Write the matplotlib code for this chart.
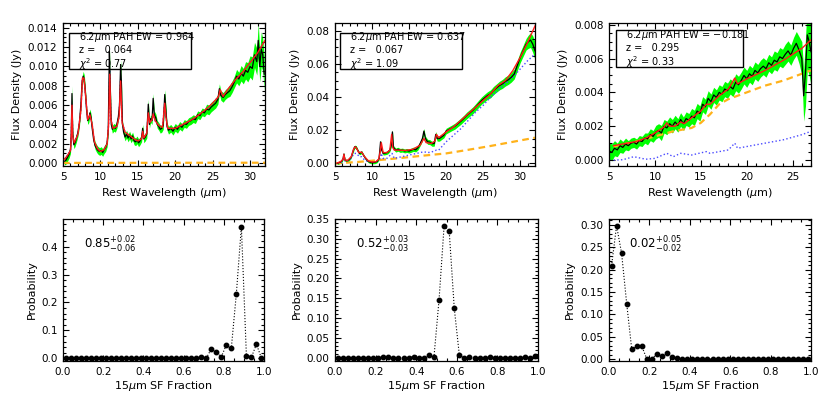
import matplotlib
matplotlib.use("Agg")
import matplotlib.pyplot as plt
from matplotlib.ticker import MultipleLocator, AutoMinorLocator, FormatStrFormatter
from matplotlib.patches import Rectangle
import numpy as np

plt.rcParams['font.family'] = ['DejaVu Sans']
plt.rcParams['mathtext.fontset'] = 'dejavusans'

# ---------------- Panel 1 (top left) ----------------
p1_wave = [5.2,5.4,5.6,5.8,6.0,6.1,6.2,6.3,6.45,6.6,6.8,7.0,7.2,7.4,7.55,7.7,7.85,8.0,8.15,8.3,8.45,8.6,8.75,8.9,
           9.1,9.3,9.5,9.7,9.9,10.1,10.3,10.5,10.7,10.9,11.05,11.2,11.3,11.45,11.6,11.8,12.0,12.2,12.4,12.55,12.7,12.8,
           12.95,13.1,13.3,13.5,13.7,13.9,14.1,14.3,14.5,14.7,14.9,15.1,15.3,15.5,15.65,15.8,16.0,16.2,16.4,16.55,16.7,
           16.9,17.05,17.2,17.4,17.6,17.8,18.0,18.2,18.4,18.6,18.75,18.9,19.1,19.4,19.7,20.0,20.3,20.6,20.9,21.2,21.5,
           21.8,22.1,22.4,22.7,23.0,23.3,23.6,23.9,24.2,24.5,24.8,25.1,25.4,25.7,25.9,26.1,26.4,26.7,27.0,27.3,27.6,
           27.9,28.2,28.5,28.8,29.1,29.4,29.7,30.0,30.3,30.6,30.9,31.1,31.3,31.5,31.7,31.9]
p1_flux = [0.0002,0.0003,0.0006,0.0009,0.0014,0.0030,0.0072,0.0030,0.0019,0.0021,0.0026,0.0032,0.0042,0.0062,0.0084,
           0.0090,0.0086,0.0072,0.0055,0.0044,0.0046,0.0052,0.0047,0.0036,0.0024,0.0018,0.0015,0.0013,0.0012,0.0013,
           0.0011,0.0014,0.0016,0.0021,0.0035,0.0116,0.0085,0.0040,0.0035,0.0037,0.0036,0.0040,0.0048,0.0060,0.0102,
           0.0085,0.0040,0.0032,0.0027,0.0030,0.0026,0.0029,0.0025,0.0028,0.0023,0.0022,0.0024,0.0021,0.0023,0.0026,
           0.0036,0.0025,0.0027,0.0030,0.0061,0.0040,0.0046,0.0044,0.0067,0.0050,0.0047,0.0040,0.0038,0.0035,0.0036,
           0.0039,0.0071,0.0055,0.0038,0.0034,0.0036,0.0033,0.0037,0.0035,0.0039,0.0037,0.0041,0.0040,0.0043,0.0044,
           0.0046,0.0045,0.0050,0.0049,0.0053,0.0052,0.0056,0.0055,0.0058,0.0060,0.0062,0.0066,0.0077,0.0070,0.0068,
           0.0071,0.0073,0.0075,0.0079,0.0084,0.0090,0.0087,0.0093,0.0090,0.0096,0.0094,0.0100,0.0098,0.0112,0.0105,
           0.0127,0.0100,0.0118,0.0112,0.0092]
p1_err = [0.0004,0.0004,0.0004,0.0004,0.0004,0.0005,0.0008,0.0005,0.0004,0.0004,0.0004,0.0004,0.0004,0.0005,0.0005,
          0.0005,0.0005,0.0005,0.0004,0.0004,0.0004,0.0004,0.0004,0.0004,0.0004,0.0004,0.0004,0.0004,0.0004,0.0004,
          0.0004,0.0004,0.0004,0.0004,0.0005,0.0006,0.0005,0.0004,0.0004,0.0004,0.0004,0.0004,0.0004,0.0004,0.0005,
          0.0005,0.0004,0.0004,0.0004,0.0004,0.0004,0.0004,0.0004,0.0004,0.0004,0.0004,0.0004,0.0004,0.0004,0.0004,
          0.0004,0.0004,0.0004,0.0004,0.0005,0.0004,0.0004,0.0004,0.0005,0.0004,0.0004,0.0004,0.0004,0.0004,0.0004,
          0.0004,0.0005,0.0005,0.0004,0.0004,0.0004,0.0004,0.0004,0.0004,0.0004,0.0004,0.0004,0.0004,0.0004,0.0004,
          0.0004,0.0004,0.0004,0.0004,0.0004,0.0004,0.0005,0.0005,0.0005,0.0005,0.0005,0.0005,0.0005,0.0005,0.0005,
          0.0005,0.0005,0.0006,0.0006,0.0006,0.0007,0.0007,0.0008,0.0008,0.0009,0.0010,0.0011,0.0012,0.0013,0.0014,
          0.0018,0.0016,0.0018,0.0017,0.0017]
p1_model_wave = [5.2,5.6,6.0,6.1,6.2,6.3,6.5,7.0,7.4,7.6,7.8,8.0,8.3,8.6,8.9,9.2,9.6,10.0,10.5,10.9,11.1,11.25,11.4,
                 11.7,12.2,12.5,12.7,12.9,13.3,14.0,14.5,15.0,15.5,15.65,15.8,16.2,16.4,16.6,16.9,17.05,17.3,17.8,18.3,
                 18.6,18.75,19.0,20,21,22,23,24,25,25.8,26.0,26.4,27,28,29,30,31,32]
p1_model_flux = [0.0004,0.0008,0.0013,0.0025,0.0060,0.0028,0.0021,0.0030,0.0055,0.0088,0.0088,0.0072,0.0045,0.0050,
                 0.0040,0.0022,0.0015,0.0012,0.0014,0.0020,0.0040,0.0092,0.0045,0.0036,0.0038,0.0048,0.0085,0.0042,
                 0.0032,0.0028,0.0025,0.0023,0.0025,0.0033,0.0026,0.0031,0.0052,0.0042,0.0045,0.0051,0.0044,0.0039,
                 0.0037,0.0062,0.0048,0.0036,0.0036,0.0040,0.0044,0.0049,0.0055,0.0062,0.0069,0.0076,0.0069,0.0076,
                 0.0086,0.0094,0.0104,0.0114,0.0127]
p1_sb_flux = [0.0004,0.0008,0.0013,0.0025,0.0061,0.0028,0.0021,0.0030,0.0055,0.0088,0.0088,0.0072,0.0045,0.0050,
              0.0040,0.0022,0.0015,0.0012,0.0014,0.0020,0.0040,0.0095,0.0045,0.0036,0.0038,0.0048,0.0087,0.0042,
              0.0032,0.0028,0.0025,0.0023,0.0025,0.0033,0.0026,0.0031,0.0052,0.0042,0.0045,0.0051,0.0044,0.0039,
              0.0037,0.0062,0.0048,0.0036,0.0036,0.0040,0.0044,0.0049,0.0055,0.0062,0.0069,0.0076,0.0069,0.0076,
              0.0086,0.0094,0.0104,0.0114,0.0127]
p1_agn_wave = [5.0, 32.0]
p1_agn_flux = [0.00002, 0.00004]

# ---------------- Panel 2 (top middle) ----------------
p2_wave = [5.3,5.6,5.9,6.1,6.2,6.35,6.6,6.9,7.2,7.45,7.65,7.85,8.05,8.3,8.6,8.9,9.2,9.5,9.8,10.1,10.4,10.7,10.95,11.15,
           11.3,11.5,11.8,12.1,12.4,12.6,12.75,12.9,13.2,13.5,13.8,14.1,14.4,14.7,15.0,15.3,15.6,15.9,16.2,16.5,16.8,
           17.0,17.2,17.5,17.8,18.1,18.4,18.6,18.8,19.1,19.4,19.7,20.0,20.4,20.8,21.2,21.6,22.0,22.4,22.8,23.2,23.6,
           24.0,24.4,24.8,25.2,25.6,26.0,26.4,26.8,27.2,27.6,28.0,28.4,28.8,29.2,29.6,30.0,30.4,30.8,31.1,31.4,31.7,32.0]
p2_flux = [0.0000,0.0005,0.0012,0.0030,0.0056,0.0020,0.0015,0.0022,0.0040,0.0075,0.0100,0.0098,0.0080,0.0060,0.0068,
           0.0045,0.0025,0.0012,0.0006,0.0005,0.0006,0.0012,0.0030,0.0130,0.0080,0.0060,0.0062,0.0066,0.0080,0.0110,
           0.0190,0.0095,0.0080,0.0085,0.0078,0.0080,0.0075,0.0078,0.0074,0.0080,0.0085,0.0082,0.0095,0.0120,0.0150,
           0.0195,0.0150,0.0130,0.0128,0.0118,0.0120,0.0175,0.0150,0.0150,0.0160,0.0170,0.0195,0.0205,0.0215,0.0225,
           0.0240,0.0255,0.0272,0.0290,0.0305,0.0320,0.0340,0.0360,0.0380,0.0395,0.0410,0.0420,0.0440,0.0455,0.0470,
           0.0480,0.0495,0.0505,0.0520,0.0540,0.0590,0.0640,0.0680,0.0720,0.0735,0.0745,0.0720,0.0680]
p2_err = [0.0008,0.0008,0.0008,0.0009,0.0010,0.0008,0.0008,0.0008,0.0008,0.0009,0.0010,0.0010,0.0009,0.0009,0.0009,
          0.0008,0.0008,0.0008,0.0008,0.0008,0.0008,0.0008,0.0009,0.0012,0.0010,0.0010,0.0010,0.0010,0.0010,0.0011,
          0.0013,0.0012,0.0012,0.0012,0.0012,0.0012,0.0012,0.0012,0.0012,0.0013,0.0013,0.0013,0.0014,0.0014,0.0015,
          0.0016,0.0015,0.0015,0.0015,0.0015,0.0016,0.0017,0.0016,0.0016,0.0016,0.0016,0.0017,0.0017,0.0017,0.0018,
          0.0018,0.0019,0.0019,0.0020,0.0020,0.0021,0.0021,0.0022,0.0022,0.0023,0.0023,0.0024,0.0025,0.0025,0.0026,
          0.0027,0.0028,0.0028,0.0029,0.0030,0.0031,0.0032,0.0033,0.0035,0.0040,0.0045,0.0050,0.0055]
p2_model_wave = [5.3,5.8,6.1,6.2,6.35,6.7,7.2,7.5,7.7,7.9,8.2,8.6,9.0,9.5,10.0,10.5,10.9,11.1,11.25,11.5,12.0,12.4,
                 12.65,12.8,13.0,13.5,14.5,15.5,16.5,17.0,17.3,18.0,18.5,18.7,19.0,20,21,22,23,24,25,26,27,28,29,30,31,32]
p2_model_flux = [0.0002,0.0012,0.0025,0.0055,0.0020,0.0018,0.0040,0.0085,0.0100,0.0093,0.0065,0.0068,0.0040,0.0015,
                 0.0008,0.0010,0.0025,0.0070,0.0125,0.0065,0.0065,0.0080,0.0175,0.0095,0.0080,0.0080,0.0078,0.0085,
                 0.0110,0.0150,0.0125,0.0120,0.0135,0.0175,0.0155,0.0190,0.0220,0.0260,0.0300,0.0340,0.0380,0.0420,
                 0.0470,0.0500,0.0560,0.0640,0.0730,0.0830]
p2_sb_wave = [5.3,6.0,6.2,6.4,7.0,7.6,7.9,8.3,8.6,9.0,9.5,10,10.5,11.0,11.25,11.5,12.0,12.7,13.0,14,15,16,17,17.5,18,
              18.7,19,20,21,22,23,24,25,26,27,28,29,30,31,32]
p2_sb_flux = [0.0,0.001,0.003,0.001,0.002,0.006,0.006,0.004,0.004,0.002,0.001,0.0005,0.0008,0.002,0.006,0.003,0.003,
              0.006,0.003,0.004,0.005,0.006,0.007,0.0065,0.0068,0.008,0.008,0.013,0.017,0.021,0.026,0.031,0.035,0.040,
              0.044,0.048,0.052,0.057,0.062,0.066]
p2_agn_wave = [5,8,11,14,17,20,23,26,29,32]
p2_agn_flux = [0.0,0.0008,0.0020,0.0033,0.0047,0.0060,0.0082,0.0105,0.0130,0.0155]

# ---------------- Panel 3 (top right) ----------------
p3_wave = [5.0,5.3,5.6,5.9,6.2,6.5,6.8,7.1,7.4,7.7,8.0,8.3,8.6,8.9,9.2,9.5,9.8,10.1,10.4,10.7,11.0,11.3,11.6,11.9,
           12.2,12.5,12.8,13.1,13.4,13.7,14.0,14.3,14.6,14.9,15.2,15.5,15.8,16.1,16.4,16.7,17.0,17.3,17.6,17.9,18.2,
           18.5,18.8,19.1,19.4,19.7,20.0,20.3,20.6,20.9,21.2,21.5,21.8,22.1,22.4,22.7,23.0,23.3,23.6,23.9,24.2,24.5,
           24.8,25.1,25.4,25.7,26.0,26.2,26.4,26.6,26.8,27.0]
p3_flux = [0.00055,0.00045,0.00070,0.00060,0.00085,0.00075,0.00095,0.00085,0.00100,0.00105,0.00095,0.00115,0.00110,
           0.00130,0.00125,0.00150,0.00140,0.00165,0.00175,0.00160,0.00200,0.00190,0.00215,0.00200,0.00225,0.00205,
           0.00240,0.00215,0.00245,0.00235,0.00260,0.00250,0.00290,0.00275,0.00330,0.00315,0.00365,0.00345,0.00385,
           0.00370,0.00400,0.00390,0.00420,0.00410,0.00435,0.00420,0.00460,0.00445,0.00470,0.00500,0.00480,0.00510,
           0.00495,0.00530,0.00515,0.00540,0.00555,0.00540,0.00575,0.00560,0.00590,0.00580,0.00610,0.00600,0.00625,
           0.00645,0.00620,0.00660,0.00690,0.00650,0.00600,0.00380,0.00520,0.00740,0.00700,0.00640]
p3_err = [0.00050,0.00050,0.00045,0.00040,0.00040,0.00035,0.00035,0.00030,0.00030,0.00030,0.00030,0.00030,0.00030,
          0.00030,0.00035,0.00035,0.00035,0.00040,0.00040,0.00045,0.00040,0.00040,0.00040,0.00040,0.00040,0.00040,
          0.00040,0.00040,0.00040,0.00040,0.00045,0.00045,0.00045,0.00045,0.00045,0.00045,0.00045,0.00045,0.00045,
          0.00045,0.00045,0.00045,0.00045,0.00045,0.00045,0.00045,0.00050,0.00050,0.00050,0.00050,0.00050,0.00050,
          0.00050,0.00050,0.00050,0.00050,0.00050,0.00050,0.00050,0.00050,0.00055,0.00055,0.00055,0.00055,0.00060,
          0.00060,0.00060,0.00065,0.00070,0.00080,0.00100,0.00150,0.00200,0.00200,0.00200,0.00200]
p3_model_wave = [5.5,6.5,8.0,9.0,10.0,11.0,11.3,11.6,12.2,12.8,13.2,14.0,15.0,15.6,16.0,17.0,18.0,18.7,19.0,20,22,24,
                 26,27]
p3_model_flux = [0.00085,0.00095,0.00110,0.00130,0.00160,0.00195,0.00220,0.00200,0.00200,0.00225,0.00215,0.00250,
                 0.00290,0.00330,0.00330,0.00380,0.00420,0.00485,0.00450,0.00480,0.00530,0.00590,0.00660,0.00710]
p3_agn_wave = [5.5,8,10,12,14,15,16,17,18,19,20,22,24,26,27]
p3_agn_flux = [0.0008,0.0011,0.0014,0.0017,0.0019,0.0022,0.0027,0.0033,0.0036,0.0038,0.0040,0.0044,0.0047,0.0051,0.0053]
p3_sb_wave = [5.5,6.5,7.7,9.0,10.0,11.3,12.0,12.8,14.0,15.6,16.0,18.0,18.7,19.0,20,22,24,26,27]
p3_sb_flux = [0.0,0.00002,0.0002,0.00005,0.0001,0.0004,0.0002,0.0004,0.0003,0.0005,0.0004,0.0006,0.0010,0.0007,
              0.0008,0.0010,0.0012,0.0015,0.0017]

# ---------------- Bottom panels: SF fraction probability ----------------
sf_fraction = [0.0125,0.0375,0.0625,0.0875,0.1125,0.1375,0.1625,0.1875,0.2125,0.2375,0.2625,0.2875,0.3125,0.3375,
               0.3625,0.3875,0.4125,0.4375,0.4625,0.4875,0.5125,0.5375,0.5625,0.5875,0.6125,0.6375,0.6625,0.6875,
               0.7125,0.7375,0.7625,0.7875,0.8125,0.8375,0.8625,0.8875,0.9125,0.9375,0.9625,0.9875]
prob_1 = [0,0,0,0,0,0,0,0,0,0.001,0,0,0.001,0,0.002,0.001,0.003,0,0,0,0,0,0.002,0,0.001,0,0.001,0.006,
          0,0.034,0.022,0.005,0.048,0.037,0.232,0.472,0.008,0.004,0.051,0.0]
prob_2 = [0,0,0,0,0,0,0,0,0,0.001,0.001,0,0,0,0,0.003,0,0,0.008,0.002,0.146,0.333,0.320,0.125,0.007,0,0.001,
          0,0,0,0.001,0,0,0,0,0,0,0.001,0,0.004]
prob_3 = [0.208,0.298,0.236,0.124,0.022,0.028,0.028,0,0,0.012,0.006,0.013,0.005,0.002,0,0,0,0,0,0,0,0,0,0,
          0,0,0,0,0,0,0,0.001,0,0,0,0,0,0,0,0]

top_info = [("0.964", "0.064", "0.77"), ("0.637", "0.067", "1.09"), ("\u22120.181", "0.295", "0.33")]
sf_text = [r"$0.85^{+0.02}_{-0.06}$", r"$0.52^{+0.03}_{-0.03}$", r"$0.02^{+0.05}_{-0.02}$"]

GREEN = "#00ff00"
RED = "#ff1a1a"
BLUE = "#4a4aff"
ORANGE = "#ffb21a"

fig = plt.figure(figsize=(8.3, 4.01), dpi=100)

def style(ax, xmaj, xmin_n, ymaj, ymin_n, xfmt, yfmt, fs=7.5):
    ax.xaxis.set_major_locator(MultipleLocator(xmaj))
    ax.xaxis.set_minor_locator(AutoMinorLocator(xmin_n))
    ax.yaxis.set_major_locator(MultipleLocator(ymaj))
    ax.yaxis.set_minor_locator(AutoMinorLocator(ymin_n))
    ax.xaxis.set_major_formatter(FormatStrFormatter(xfmt))
    ax.yaxis.set_major_formatter(FormatStrFormatter(yfmt))
    ax.tick_params(which='both', direction='in', top=True, right=True, labelsize=fs, width=0.8)
    ax.tick_params(which='major', length=4, pad=4)
    ax.tick_params(which='minor', length=2)
    for s in ax.spines.values():
        s.set_linewidth(0.9)

top_pos = [[63/830, 1-166/401, 202/830, 143/401],
           [335/830, 1-166/401, 200/830, 143/401],
           [609/830, 1-166/401, 202/830, 143/401]]
bot_pos = [[63/830, 1-361/401, 201/830, 142/401],
           [335/830, 1-361/401, 203/830, 142/401],
           [609/830, 1-361/401, 202/830, 142/401]]

spectra = [
    (p1_wave, p1_flux, p1_err, p1_model_wave, p1_model_flux, p1_model_wave, p1_sb_flux, p1_agn_wave, p1_agn_flux,
     (5, 32), (-0.0003, 0.0145), 0.002, "%.3f", -0.203, (0.03, 0.634, 0.68, 0.93)),
    (p2_wave, p2_flux, p2_err, p2_model_wave, p2_model_flux, p2_sb_wave, p2_sb_flux, p2_agn_wave, p2_agn_flux,
     (5, 32), (-0.0016, 0.0848), 0.02, "%.2f", -0.175, (0.025, 0.634, 0.68, 0.93)),
    (p3_wave, p3_flux, p3_err, p3_model_wave, p3_model_flux, p3_sb_wave, p3_sb_flux, p3_agn_wave, p3_agn_flux,
     (5, 27), (-0.00035, 0.0081), 0.002, "%.3f", -0.203, (0.033, 0.665, 0.69, 0.95)),
]

for i, (w, f, e, mw, mf, sw, sf, aw, af, xl, yl, ymaj, yfmt, ylx, box) in enumerate(spectra):
    ax = fig.add_axes(top_pos[i])
    w = np.array(w); f = np.array(f); e = np.array(e)
    ax.fill_between(w, f - e, f + e, color=GREEN, lw=0, zorder=1)
    ax.plot(aw, af, color=ORANGE, ls=(0, (3, 2)), lw=1.6, zorder=2)
    ax.plot(sw, sf, color=BLUE, ls=':', lw=1.0, zorder=2)
    ax.plot(w, f, color='black', lw=0.9, zorder=3)
    ax.plot(mw, mf, color=RED, lw=1.0, zorder=4)
    ax.set_xlim(*xl)
    ax.set_ylim(*yl)
    style(ax, 5, 5, ymaj, 4, "%d", yfmt)
    ax.set_xlabel("Rest Wavelength ($\\mu$m)", fontsize=8)
    ax.set_ylabel("Flux Density (Jy)", fontsize=8)
    ax.xaxis.set_label_coords(0.5, -0.14)
    ax.yaxis.set_label_coords(ylx, 0.5)
    x0, x1, y0, y1 = box
    ax.add_patch(Rectangle((x0, y0), x1 - x0, y1 - y0, transform=ax.transAxes,
                           fill=False, edgecolor='black', lw=1.0, zorder=6))
    ew, z, chi = top_info[i]
    block = "6.2$\\mu$m PAH EW = " + ew + "\nz =   " + z + "\n$\\chi^2$ = " + chi
    ax.text(x0 + 0.05, (y0 + y1) / 2, block, transform=ax.transAxes, fontsize=7, va='center', ha='left',
            linespacing=1.12, zorder=7)

bottoms = [
    (prob_1, (-0.0095, 0.499), 0.1, 5, "%.1f", -0.129),
    (prob_2, (-0.008, 0.35), 0.05, 5, "%.2f", -0.162),
    (prob_3, (-0.0045, 0.313), 0.05, 5, "%.2f", -0.168),
]
for i, (p, yl, ymaj, ymn, yfmt, ylx) in enumerate(bottoms):
    ax = fig.add_axes(bot_pos[i])
    ax.plot(sf_fraction, p, color='black', ls=':', lw=0.8, marker='o', ms=3.2,
            markerfacecolor='black', markeredgecolor='black', clip_on=True)
    ax.set_xlim(0, 1)
    ax.set_ylim(*yl)
    style(ax, 0.2, 4, ymaj, ymn, "%.1f", yfmt)
    ax.set_xlabel("15$\\mu$m SF Fraction", fontsize=8)
    ax.set_ylabel("Probability", fontsize=8)
    ax.xaxis.set_label_coords(0.5, -0.13)
    ax.yaxis.set_label_coords(ylx, 0.5)
    ax.text(0.105 if i < 2 else 0.10, 0.82, sf_text[i], transform=ax.transAxes, fontsize=8.5, va='center')

fig.savefig("out.png", dpi=100)
